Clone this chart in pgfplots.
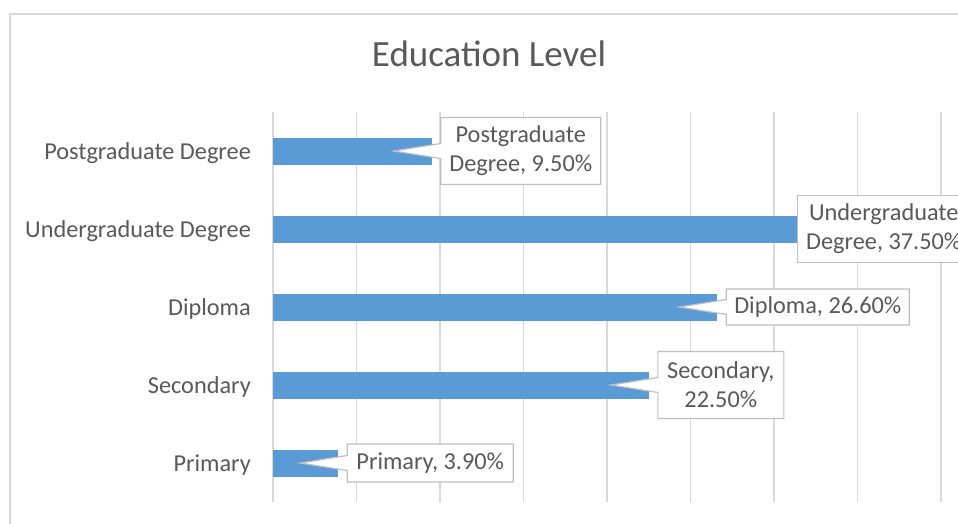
\documentclass[border=0pt]{standalone}
\usepackage{fontspec}
\setmainfont{Carlito}
\usepackage{pgfplots}
\pgfplotsset{compat=1.18}
\usetikzlibrary{shapes.callouts}
\definecolor{barblue}{HTML}{5B9BD5}
\definecolor{labelgray}{HTML}{595959}
\definecolor{gridgray}{HTML}{D9D9D9}
\definecolor{boxgray}{HTML}{BFBFBF}
\newcommand{\lblfont}{\fontsize{24.3pt}{29pt}\selectfont}
\newcommand{\titlefont}{\fontsize{37pt}{42pt}\selectfont}
\tikzset{
  dlabel/.style={shape=rectangle callout, draw=boxgray, fill=white, line width=1.2pt,
    text=labelgray, font=\lblfont, align=center, inner sep=0pt,
    callout pointer width=15pt, anchor=west, xshift=8.5pt,
    callout relative pointer={(-47pt,0pt)}},
}
\begin{document}
\begin{tikzpicture}
\draw[gridgray, line width=1.3pt] (10pt,-14pt) rectangle (1000pt,-600pt);
\node[font=\titlefont, text=labelgray, anchor=base] at (489pt,-66.7pt) {Education Level};
\begin{axis}[
  at={(273pt,-502pt)}, anchor=south west,
  width=668pt, height=390pt, scale only axis,
  xbar, bar width=27pt, bar shift=0pt,
  xmin=0, xmax=40, ymin=-0.5, ymax=4.5,
  xtick={0,5,...,40}, xticklabel=\empty,
  xmajorgrids, grid style={draw=gridgray, line width=1.1pt},
  axis line style={draw=none},
  ytick={0,1,2,3,4},
  yticklabels={Primary,Secondary,Diploma,Undergraduate Degree,Postgraduate Degree},
  major tick length=0pt,
  yticklabel style={font=\lblfont, text=labelgray, anchor=base east, inner sep=0pt, xshift=-22pt, yshift=-8.3pt},
  clip=false,
]
\addplot[fill=barblue, draw=none,
  nodes near coords={Primary, 3.90\%},
  nodes near coords style={dlabel, minimum width=166pt, minimum height=38pt}]
  coordinates {(3.9,0)};
\addplot[fill=barblue, draw=none,
  nodes near coords={Secondary,\\22.50\%},
  nodes near coords style={dlabel, minimum width=126pt, minimum height=67pt}]
  coordinates {(22.5,1)};
\addplot[fill=barblue, draw=none,
  nodes near coords={Diploma, 26.60\%},
  nodes near coords style={dlabel, minimum width=183pt, minimum height=36pt}]
  coordinates {(26.6,2)};
\addplot[fill=barblue, draw=none,
  nodes near coords={Undergraduate\\Degree, 37.50\%},
  nodes near coords style={shape=rectangle, draw=boxgray, fill=white, line width=1.2pt,
    text=labelgray, font=\lblfont, align=center, inner sep=0pt, anchor=center, xshift=-15.5pt,
    minimum width=172pt, minimum height=67pt}]
  coordinates {(37.5,3)};
\addplot[fill=barblue, draw=none,
  nodes near coords={Postgraduate\\Degree, 9.50\%},
  nodes near coords style={dlabel, minimum width=160pt, minimum height=67pt}]
  coordinates {(9.5,4)};
\end{axis}
\pgfresetboundingbox
\path[use as bounding box] (0,0) rectangle (958pt,-524pt);
\end{tikzpicture}
\end{document}
